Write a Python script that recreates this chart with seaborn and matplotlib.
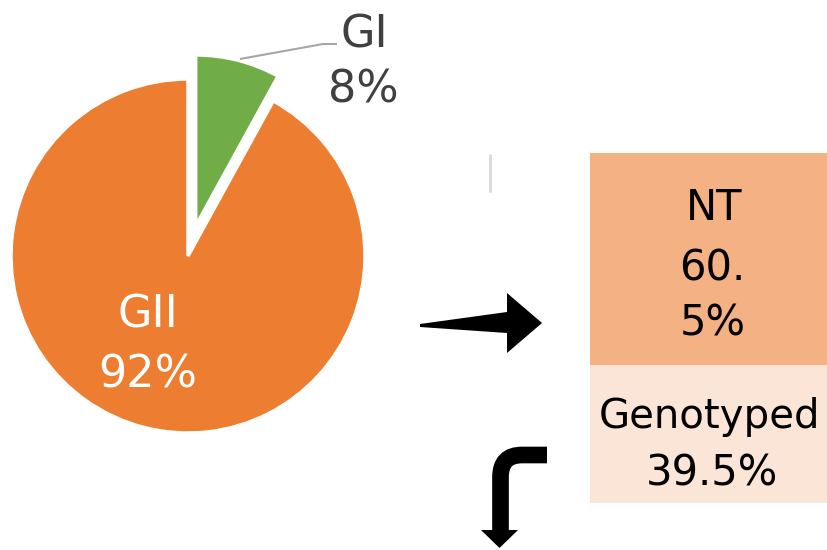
import matplotlib
matplotlib.use("Agg")
import matplotlib.pyplot as plt
import matplotlib.patches as mpatches
from matplotlib.path import Path
import seaborn as sns

# ---- data ----
genogroups = ["GI", "GII"]
shares = [8, 92]
pie_colors = ["#70ad47", "#ed7d31"]

box_labels = ["Genotyped", "NT"]          # bottom -> top
box_values = [39.5, 60.5]
box_value_lines = [["39.5%"], ["60.", "5%"]]
box_colors = ["#fbe5d6", "#f4b183"]

sns.set_style("white")
plt.rcParams["font.family"] = ["DejaVu Sans"]

W, H = 828, 550
fig = plt.figure(figsize=(W / 100, H / 100), dpi=100)
ax = fig.add_axes([0, 0, 1, 1])

def Y(py):
    return H - py

# ---- stacked box (drawn underneath) ----
bx0, by_top, bx1, by_bot = 590, 153, 828, 503
bax = fig.add_axes([bx0 / W, (H - by_bot) / H, (bx1 - bx0) / W,
                    (by_bot - by_top) / H])
cum = []
t = 0
for v in box_values:
    t += v
    cum.append(t)
for h, c in sorted(zip(cum, box_colors), key=lambda z: -z[0]):
    sns.barplot(x=["box"], y=[h], color=c, width=1.0, saturation=1,
                linewidth=0, ax=bax)
bax.set_xlim(-0.5, 0.5)
bax.set_ylim(0, sum(box_values))
bax.axis("off")
bax.set_zorder(0)
ax.set_zorder(2)
ax.patch.set_alpha(0)

# ---- pie ----
wedges, _ = ax.pie(shares, colors=pie_colors, startangle=90, counterclock=False,
                   radius=177, center=(188, Y(256)), explode=[31, 0],
                   wedgeprops=dict(edgecolor="white", linewidth=2.5))
wedges[0].set_radius(171)
ax.set_xlim(0, W)
ax.set_ylim(0, H)
ax.set_aspect("equal")
ax.axis("off")

# pie labels
pie_label_pos = {"GI": [(364, 47), (363, 102)], "GII": [(148, 327), (148, 387)]}
pie_label_col = {"GI": "#404040", "GII": "white"}
for g, s in zip(genogroups, shares):
    for txt, (px, py) in zip([g, f"{s}%"], pie_label_pos[g]):
        ax.text(px, Y(py), txt, ha="center", va="baseline", fontsize=32,
                color=pie_label_col[g])

# leader line for GI
ax.plot([240, 323, 337], [Y(59), Y(44), Y(44)], color="#a6a6a6", lw=1.5,
        solid_capstyle="butt")

# small gray tick
ax.plot([490, 490], [Y(155), Y(191)], color="#d9d9d9", lw=2)

# ---- right arrow ----
arrow_pts = [(420, 324), (507, 312), (507, 293), (542, 323), (507, 353),
             (507, 333), (420, 327)]
ax.add_patch(mpatches.Polygon([(x, Y(y)) for x, y in arrow_pts],
                              closed=True, facecolor="black", edgecolor="none"))

# ---- bent arrow ----
verts = [(547, Y(455)), (522, Y(455)), (500.5, Y(455)), (500.5, Y(477)),
         (500.5, Y(531))]
codes = [Path.MOVETO, Path.LINETO, Path.CURVE3, Path.CURVE3, Path.LINETO]
ax.add_patch(mpatches.PathPatch(Path(verts, codes), facecolor="none",
                                edgecolor="black", lw=12, capstyle="butt",
                                joinstyle="miter"))
head = [(481, 530), (518, 530), (499.5, 548)]
ax.add_patch(mpatches.Polygon([(x, Y(y)) for x, y in head], closed=True,
                              facecolor="black", edgecolor="none"))

# box texts
box_text_pos = {"Genotyped": [(710, 428), (712, 485)],
                "NT": [(714, 220), (712, 280), (713, 335)]}
box_font = {"Genotyped": 29, "NT": 30}
for lab, lines in zip(box_labels, box_value_lines):
    for txt, (px, py) in zip([lab] + lines, box_text_pos[lab]):
        ax.text(px, Y(py), txt, ha="center", va="baseline",
                fontsize=box_font[lab] if txt == lab else 30, color="black",
                zorder=5)

fig.savefig("out.png", dpi=100)
